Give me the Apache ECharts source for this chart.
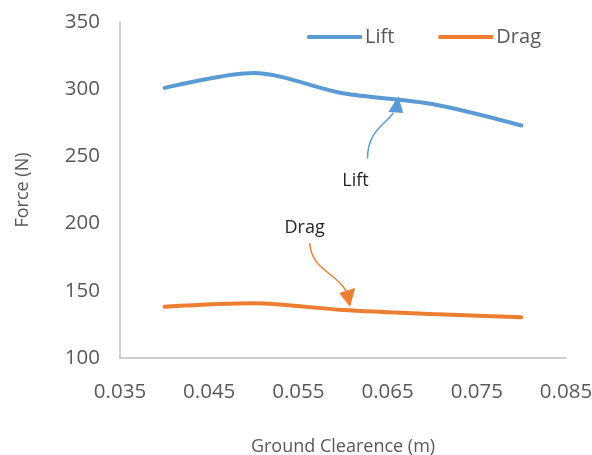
<!DOCTYPE html>
<html>
<head>
<meta charset="utf-8">
<script src="https://cdn.jsdelivr.net/npm/echarts@6/dist/echarts.min.js"></script>
<style>html,body{margin:0;padding:0;background:#fff}#c{width:592px;height:455px}</style>
</head>
<body>
<div id="c"></div>
<script>
const clearance = [0.04, 0.05, 0.06, 0.07, 0.08];
const lift = [301, 312, 297, 289, 273];
const drag = [138.2, 140.7, 135.7, 132.7, 130.3];
const xTicks = [0.035, 0.045, 0.055, 0.065, 0.075, 0.085];
const yTicks = [100, 150, 200, 250, 300, 350];
const liftNote = { text: 'Lift', at: [0.0614, 232], tip: [0.0662, 295] };
const dragNote = { text: 'Drag', at: [0.0557, 196.7], tip: [0.0608, 138] };

const FONT = '"Open Sans", sans-serif';
const chart = echarts.init(document.getElementById('c'));
chart.setOption({
  animation: false,
  backgroundColor: '#fff',
  grid: { left: 120, right: 26, top: 22, bottom: 97, containLabel: false, outerBoundsMode: 'none' },
  legend: {
    data: ['Lift', 'Drag'],
    left: 302, top: 22,
    icon: 'roundRect', itemWidth: 55, itemHeight: 4, itemGap: 44,
    textStyle: { fontFamily: FONT, fontSize: 20, color: '#595959', padding: [0, 0, 0, -2] }
  },
  xAxis: {
    type: 'value', min: xTicks[0], max: xTicks[xTicks.length - 1],
    name: 'Ground Clearence (m)', nameLocation: 'middle', nameGap: 80,
    nameTextStyle: { fontFamily: FONT, fontSize: 18, color: '#595959' },
    axisLine: { show: true, lineStyle: { color: '#BFBFBF', width: 1.5 } },
    axisTick: { show: false, customValues: xTicks },
    splitLine: { show: false },
    axisLabel: { customValues: xTicks, margin: 24, fontFamily: FONT, fontSize: 20.5, color: '#595959',
      formatter: v => v.toFixed(3) }
  },
  yAxis: {
    type: 'value', min: yTicks[0], max: yTicks[yTicks.length - 1], interval: 50,
    name: 'Force (N)', nameLocation: 'middle', nameGap: 88,
    nameTextStyle: { fontFamily: FONT, fontSize: 18, color: '#595959' },
    axisLine: { show: true, lineStyle: { color: '#BFBFBF', width: 1.5 } },
    axisTick: { show: false },
    splitLine: { show: false },
    axisLabel: { margin: 20, fontFamily: FONT, fontSize: 20.5, color: '#595959' }
  },
  series: [
    { name: 'Lift', type: 'line', smooth: 0.3, showSymbol: false, symbol: 'none',
      color: '#5B9BD5', lineStyle: { width: 4, color: '#5B9BD5', cap: 'round' },
      data: clearance.map((x, i) => [x, lift[i]]) },
    { name: 'Drag', type: 'line', smooth: 0.3, showSymbol: false, symbol: 'none',
      color: '#ED7D31', lineStyle: { width: 4, color: '#ED7D31', cap: 'round' },
      data: clearance.map((x, i) => [x, drag[i]]) }
  ]
});

function px(p) { return chart.convertToPixel({ gridIndex: 0 }, p); }
function add(a, d) { return [a[0] + d[0], a[1] + d[1]]; }
const lt = px(liftNote.at), lp = px(liftNote.tip);
const dt = px(dragNote.at), dp = px(dragNote.tip);
const ls = add(lt, [12, -22]), le = add(lp, [-5, 17]);
const ds = add(dt, [5, 15]), de = add(dp, [-4, -16]);
const lc1 = add(ls, [0, -28]), lc2 = add(le, [-8, 12]);
const dc1 = add(ds, [2, 27]), dc2 = add(de, [-11, -19]);

chart.setOption({
  graphic: [
    { type: 'text', x: lt[0], y: lt[1], style: { text: liftNote.text, fontFamily: FONT, fontSize: 18, fill: '#262626', align: 'center', verticalAlign: 'middle' } },
    { type: 'text', x: dt[0], y: dt[1], style: { text: dragNote.text, fontFamily: FONT, fontSize: 18, fill: '#262626', align: 'center', verticalAlign: 'middle' } },
    { type: 'bezierCurve', shape: { x1: ls[0], y1: ls[1], cpx1: lc1[0], cpy1: lc1[1], cpx2: lc2[0], cpy2: lc2[1], x2: le[0], y2: le[1] },
      style: { stroke: '#5B9BD5', lineWidth: 1.5, fill: null } },
    { type: 'polygon', shape: { points: [lp, add(lp, [-10, 16]), add(lp, [5, 17])] }, style: { fill: '#5B9BD5' } },
    { type: 'bezierCurve', shape: { x1: ds[0], y1: ds[1], cpx1: dc1[0], cpy1: dc1[1], cpx2: dc2[0], cpy2: dc2[1], x2: de[0], y2: de[1] },
      style: { stroke: '#ED7D31', lineWidth: 1.5, fill: null } },
    { type: 'polygon', shape: { points: [dp, add(dp, [-11, -14]), add(dp, [5, -19])] }, style: { fill: '#ED7D31' } }
  ]
});
</script>
</body>
</html>
